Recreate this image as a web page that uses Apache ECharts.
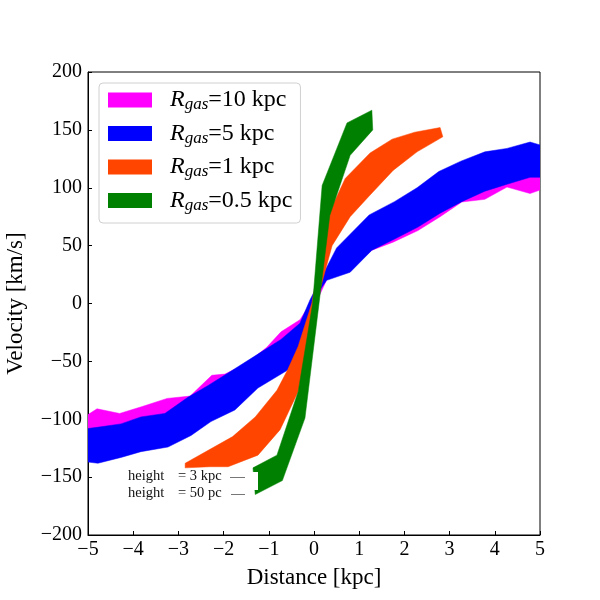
<!DOCTYPE html>
<html>
<head>
<meta charset="utf-8">
<script src="https://cdn.jsdelivr.net/npm/echarts@6/dist/echarts.min.js"></script>
<style>
  html, body { margin: 0; padding: 0; background: #fff; }
  #chart { width: 600px; height: 600px; }
</style>
</head>
<body>
<div id="chart"></div>
<script>
// band edges as [distance kpc, velocity km/s]; upper = height 3 kpc side, lower = 50 pc side
const names = ['10 kpc', '5 kpc', '1 kpc', '0.5 kpc'];
const colors = ['#ff00ff', '#0000ff', '#ff4500', '#008000'];

const magentaUpper = [[-5, -96], [-4.8, -91], [-4.3, -95], [-3.8, -89], [-3.25, -82], [-2.74, -80], [-2.26, -62], [-1.97, -61], [-1.5, -52], [-1.05, -38], [-0.73, -24.5], [-0.31, -14], [0, 5], [0.3, 28], [0.8, 50], [1.3, 68], [1.8, 80], [2.3, 92], [2.8, 105], [3.3, 113], [3.8, 120], [4.3, 126], [4.8, 124], [5, 126]];
const magentaLower = [[-5, -124], [-4.3, -122], [-3.3, -110], [-2.3, -92], [-1.3, -70], [-0.8, -55], [-0.3, -30], [0, -3], [0.3, 22], [0.8, 30], [1.28, 46], [1.75, 53], [2.3, 63], [2.79, 75], [3.27, 87.7], [3.78, 90], [4.27, 100.6], [4.78, 95], [5, 98]];

const blueUpper = [[-5, -108], [-4.8, -107], [-4.27, -104], [-3.83, -98], [-3.3, -95], [-2.79, -81], [-2.35, -71], [-1.9, -60], [-1.17, -42], [-0.73, -31], [-0.31, -17], [-0.09, 3], [0.5, 48], [1.22, 76.5], [1.78, 88], [2.28, 100], [2.76, 114], [3.25, 123], [3.78, 131], [4.27, 134], [4.78, 139.5], [5, 137]];
const blueLower = [[-5, -137], [-4.78, -138], [-4.27, -133], [-3.83, -128], [-3.23, -124], [-2.72, -114], [-2.28, -102], [-1.75, -92], [-1.24, -73], [-0.58, -57.5], [-0.31, -38], [-0.09, -8], [0.1, 10], [0.28, 20], [0.8, 27], [1.28, 46], [1.75, 55], [2.3, 66], [2.79, 78], [3.27, 88], [3.78, 97], [4.27, 103], [4.78, 109], [5, 109]];

const orangeUpper = [[-2.85, -138], [-1.8, -115], [-1.3, -98], [-0.82, -75], [-0.58, -57], [-0.35, -37], [-0.05, 0], [0.31, 76], [0.69, 108], [1.24, 130], [1.73, 142], [2.23, 148], [2.79, 152]];
const orangeLower = [[-2.85, -142], [-2.3, -141], [-1.9, -141], [-1.24, -131], [-0.75, -109], [-0.35, -76], [0.05, 0], [0.4, 50], [0.8, 75], [1.2, 92], [1.75, 115], [2.28, 131], [2.85, 144]];

const greenUpper = [[-1.35, -142], [-0.82, -131], [-0.35, -76], [-0.03, 0], [0.18, 102], [0.73, 156], [1.28, 167]];
const greenLower = [[-1.3, -165], [-0.7, -153], [-0.2, -99], [0.35, 76], [0.8, 128], [1.3, 150]];

const bands = [
  [magentaUpper, magentaLower],
  [blueUpper, blueLower],
  [orangeUpper, orangeLower],
  [greenUpper, greenLower],
];

const FONT = '"Liberation Serif", "DejaVu Serif", serif';
const minus = (v) => String(v).replace('-', '\u2212');

function bandSeries(i) {
  const upper = bands[i][0];
  const lower = bands[i][1];
  return {
    name: names[i],
    type: 'custom',
    coordinateSystem: 'cartesian2d',
    clip: true,
    silent: true,
    itemStyle: { color: colors[i] },
    data: [[0, 0]],
    z: 2 + i,
    renderItem: function(params, api) {
      const pts = upper.concat(lower.slice().reverse()).map((p) => api.coord(p));
      return {
        type: 'polygon',
        shape: { points: pts },
        style: { fill: colors[i], stroke: colors[i], lineWidth: 0.5 },
      };
    },
  };
}

const chart = echarts.init(document.getElementById('chart'));
chart.setOption({
  animation: false,
  backgroundColor: '#fff',
  grid: {
    left: 88, right: 60, top: 72, bottom: 65,
    outerBoundsMode: 'none',
    show: true, borderColor: '#000', borderWidth: 1,
  },
  xAxis: {
    type: 'value', min: -5, max: 5, interval: 1,
    name: 'Distance [kpc]', nameLocation: 'middle', nameGap: 31,
    nameTextStyle: { fontFamily: FONT, fontSize: 23, color: '#000' },
    axisLine: { show: true, onZero: false, lineStyle: { color: '#000', width: 1 } },
    axisTick: { show: true, inside: true, length: 4, lineStyle: { color: '#000' } },
    axisLabel: { fontFamily: FONT, fontSize: 20, color: '#000', margin: 5, formatter: minus },
    splitLine: { show: false },
  },
  yAxis: {
    type: 'value', min: -200, max: 200, interval: 50,
    name: 'Velocity [km/s]', nameLocation: 'middle', nameGap: 61,
    nameTextStyle: { fontFamily: FONT, fontSize: 23, color: '#000' },
    axisLine: { show: true, onZero: false, lineStyle: { color: '#000', width: 1 } },
    axisTick: { show: true, inside: true, length: 4, lineStyle: { color: '#000' } },
    axisLabel: { fontFamily: FONT, fontSize: 20, color: '#000', margin: 6, formatter: minus },
    splitLine: { show: false },
  },
  legend: {
    orient: 'vertical',
    left: 99, top: 83,
    padding: [5, 8, 9, 9],
    itemWidth: 44, itemHeight: 15, itemGap: 8,
    icon: 'rect',
    borderColor: '#d0d0d0', borderWidth: 1, borderRadius: 4,
    backgroundColor: 'rgba(255,255,255,0.8)',
    selectedMode: false,
    data: names,
    formatter: (n) => '{r|R}{s|gas}{t|=' + n + '}',
    textStyle: {
      fontFamily: FONT, fontSize: 24, color: '#000', lineHeight: 22,
      rich: {
        r: { fontFamily: FONT, fontSize: 24, fontStyle: 'italic', color: '#000', padding: [0, 0, 0, 13] },
        s: { fontFamily: FONT, fontSize: 17, fontStyle: 'italic', color: '#000', padding: [10, 0, 0, 0] },
        t: { fontFamily: FONT, fontSize: 24, color: '#000' },
      },
    },
  },
  graphic: [
    { type: 'rect', z: 50, shape: { x: 122, y: 472, width: 136, height: 18 }, style: { fill: '#fff' } },
    { type: 'text', z: 51, left: 128, top: 469, style: { text: 'height', font: '14.5px ' + FONT, fill: '#111' } },
    { type: 'text', z: 51, left: 178, top: 469, style: { text: '= 3 kpc', font: '14.5px ' + FONT, fill: '#111' } },
    { type: 'line', z: 51, shape: { x1: 230, y1: 477.5, x2: 245, y2: 477.5 }, style: { stroke: '#777', lineWidth: 1 } },
    { type: 'text', z: 51, left: 128, top: 486, style: { text: 'height', font: '14.5px ' + FONT, fill: '#111' } },
    { type: 'text', z: 51, left: 178, top: 486, style: { text: '= 50 pc', font: '14.5px ' + FONT, fill: '#111' } },
    { type: 'line', z: 51, shape: { x1: 231, y1: 494.5, x2: 245, y2: 494.5 }, style: { stroke: '#777', lineWidth: 1 } },
  ],
  series: [0, 1, 2, 3].map(bandSeries),
});
</script>
</body>
</html>
